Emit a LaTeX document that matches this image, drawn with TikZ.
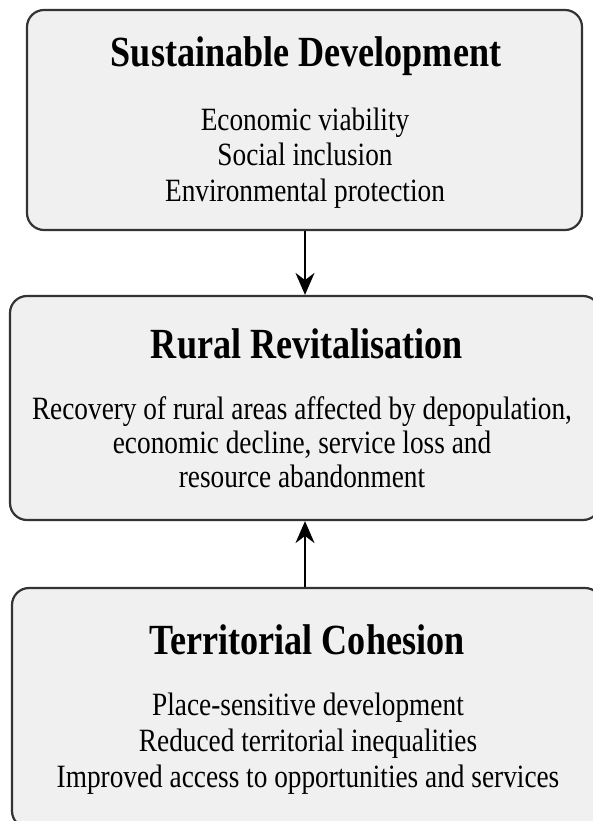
\documentclass[tikz,border=0pt]{standalone}
\usepackage{fontspec}
\setmainfont{Liberation Serif}[FakeStretch=0.84]
\usetikzlibrary{arrows.meta}
\begin{document}
\begin{tikzpicture}[x=1pt,y=-1pt,
  panel/.style={draw=black!80, line width=2.2pt, fill=black!6, rounded corners=17pt, inner sep=0pt},
  ttl/.style={font=\fontsize{43}{46}\selectfont\bfseries, inner sep=0pt, anchor=base},
  bodytxt/.style={font=\fontsize{32.5}{36}\selectfont, inner sep=0pt, anchor=base},
  conn/.style={line width=2pt, -{Stealth[length=22pt,width=19pt]}}]
\useasboundingbox (0,0) rectangle (592,821);
\node[panel, minimum width=555pt, minimum height=220pt] (b1) at (304.5,120) {};
\node[panel, minimum width=590pt, minimum height=224pt] (b2) at (305,408) {};
\node[panel, minimum width=590pt, minimum height=240pt] (b3) at (307,708) {};
\node[ttl] (t1) at (306,67) {Sustainable Development};
\node[bodytxt] (d1a) at (305,131) {Economic viability};
\node[bodytxt] (d1b) at (305,166) {Social inclusion};
\node[bodytxt] (d1c) at (305,201) {Environmental protection};
\node[ttl] (t2) at (307,358) {Rural Revitalisation};
\node[bodytxt] (d2a) at (302,419) {Recovery of rural areas affected by depopulation,};
\node[bodytxt] (d2b) at (302,453) {economic decline, service loss and};
\node[bodytxt] (d2c) at (302,487) {resource abandonment};
\node[ttl] (t3) at (307,654) {Territorial Cohesion};
\node[bodytxt] (d3a) at (308,715) {Place-sensitive development};
\node[bodytxt] (d3b) at (308,751) {Reduced territorial inequalities};
\node[bodytxt] (d3c) at (308,787) {Improved access to opportunities and services};
\draw[conn] (b1.south -| 305,0) -- (b2.north -| 305,0);
\draw[conn] (b3.north -| 305,0) -- (b2.south -| 305,0);
\end{tikzpicture}
\end{document}
